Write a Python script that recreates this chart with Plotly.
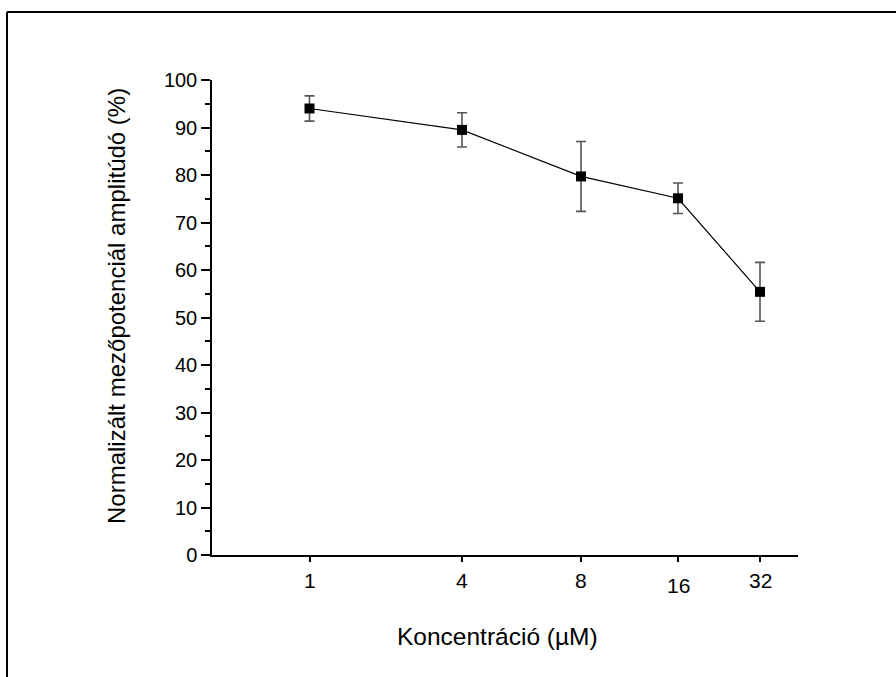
import plotly.graph_objects as go

# ---- data ----
conc_labels = ["1", "4", "8", "16", "32"]
x_pos = [0.975, 2.50, 3.69, 4.66, 5.48]          # position of each concentration on the (non-uniform) axis
amplitude = [94.0, 89.5, 79.7, 75.1, 55.4]
amplitude_err = [2.65, 3.6, 7.35, 3.2, 6.2]
y_tick_vals = [0, 10, 20, 30, 40, 50, 60, 70, 80, 90, 100]
x_title = "Koncentráció (µM)"
y_title = "Normalizált mezőpotenciál amplitúdó (%)"

FONT = "Arial, Liberation Sans, sans-serif"

# plot area in pixels
L, R, T, B = 212, 798, 80, 555
W, H = 896, 677

def px_x(p):
    return (p - L) / (R - L)

def px_y(p):
    return (B - p) / (B - T)

fig = go.Figure()
fig.add_trace(go.Scatter(
    x=x_pos, y=amplitude,
    mode="lines+markers",
    line=dict(color="black", width=1.2),
    marker=dict(symbol="square", size=10, color="black"),
    error_y=dict(type="data", array=amplitude_err, visible=True,
                 color="#555555", thickness=1.6, width=5),
    showlegend=False,
))

# x tick labels (the "16" label sits slightly lower in the original)
for lab, xp in zip(conc_labels, x_pos):
    fig.add_annotation(x=xp, y=0, xref="x", yref="y", text=lab, showarrow=False,
                       yanchor="middle", xanchor="center",
                       yshift=-(25 if lab != "16" else 30),
                       font=dict(family=FONT, size=21, color="black"))

# axis titles
fig.add_annotation(x=px_x(497), y=px_y(636), xref="paper", yref="paper",
                   text=x_title, showarrow=False, xanchor="center", yanchor="middle",
                   font=dict(family=FONT, size=24.5, color="black"))
fig.add_annotation(x=px_x(116), y=px_y(306), xref="paper", yref="paper",
                   text=y_title, showarrow=False, xanchor="center", yanchor="middle",
                   textangle=-90, font=dict(family=FONT, size=24, color="black"))

# outer frame (left and top edges visible)
fig.add_shape(type="line", xref="paper", yref="paper",
              x0=px_x(7), x1=px_x(7), y0=px_y(12), y1=px_y(700),
              line=dict(color="black", width=2))
fig.add_shape(type="line", xref="paper", yref="paper",
              x0=px_x(7), x1=px_x(910), y0=px_y(12), y1=px_y(12),
              line=dict(color="black", width=2))

fig.update_layout(
    width=W, height=H,
    margin=dict(l=L, r=W - R, t=T, b=H - B, autoexpand=False),
    paper_bgcolor="white", plot_bgcolor="white",
    font=dict(family=FONT, color="black"),
    xaxis=dict(
        range=[0, (R - L) / 100], showgrid=False, zeroline=False,
        showline=True, linecolor="black", linewidth=1.5,
        ticks="outside", ticklen=5, tickwidth=1.5, tickcolor="black",
        tickvals=x_pos, showticklabels=False,
        automargin=False,
    ),
    yaxis=dict(
        range=[0, 100], showgrid=False, zeroline=False,
        showline=True, linecolor="black", linewidth=1.5,
        ticks="outside", ticklen=9, tickwidth=1.5, tickcolor="black",
        tickvals=y_tick_vals, tickfont=dict(family=FONT, size=20),
        minor=dict(ticks="outside", ticklen=5, tickwidth=1.5, tickcolor="black", dtick=5),
        automargin=False,
    ),
)

fig.write_html("out.html")
